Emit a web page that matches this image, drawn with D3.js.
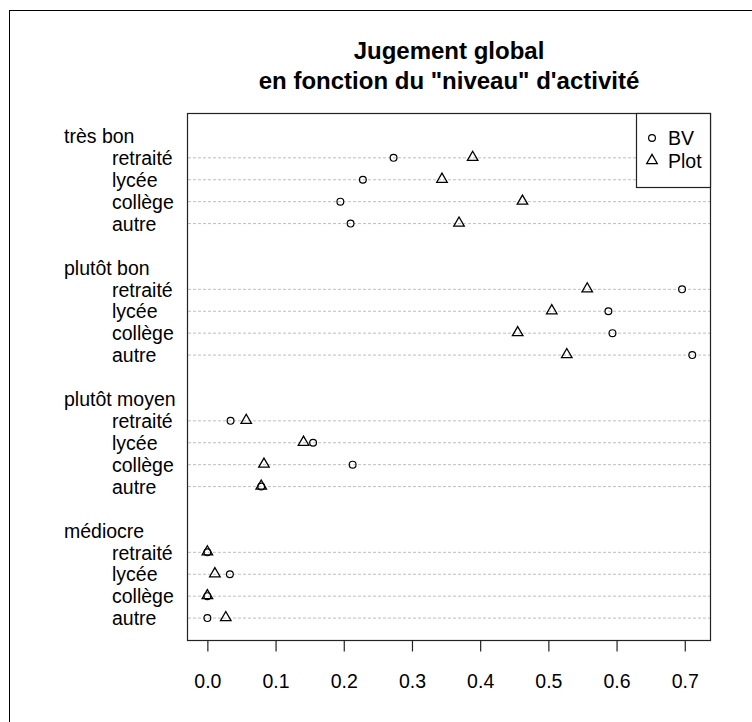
<!DOCTYPE html>
<html>
<head>
<meta charset="utf-8">
<script src="https://cdn.jsdelivr.net/npm/d3@7"></script>
<style>
  html, body { margin: 0; padding: 0; background: #fff; }
  svg { display: block; }
  text { font-family: "Liberation Sans", Arial, sans-serif; fill: #000; }
</style>
</head>
<body>
<svg id="chart" width="752" height="722"></svg>
<script>
// ---- data ----
const groups = ["très bon", "plutôt bon", "plutôt moyen", "médiocre"];
const levels = ["retraité", "lycée", "collège", "autre"];
// values per group, in the order of levels
const bvValues = [
  [0.273, 0.228, 0.195, 0.210],   // très bon
  [0.696, 0.588, 0.594, 0.711],   // plutôt bon
  [0.034, 0.155, 0.213, 0.079],   // plutôt moyen
  [0.000, 0.033, 0.000, 0.000]    // médiocre
];
const plotValues = [
  [0.389, 0.344, 0.462, 0.369],
  [0.557, 0.505, 0.455, 0.527],
  [0.057, 0.141, 0.083, 0.079],
  [0.000, 0.011, 0.000, 0.027]
];
const seriesNames = ["BV", "Plot"];
const xTicks = [0, 0.1, 0.2, 0.3, 0.4, 0.5, 0.6, 0.7];
const titleLines = ["Jugement global", "en fonction du \"niveau\" d'activité"];

// ---- layout ----
const svg = d3.select("#chart");
const box = { left: 188, right: 710, top: 114, bottom: 640 };

// positions like R dotchart: bottom group first, 2 units gap per group
const nG = groups.length, nL = levels.length;
function rowPos(g, l) {
  const gb = nG - 1 - g;
  return gb * (nL + 2) + (nL - l);
}
function groupLabelPos(g) {
  const gb = nG - 1 - g;
  return gb * (nL + 2) + nL + 1;
}

const x = d3.scaleLinear().domain([-0.0284, 0.737]).range([box.left, box.right]);
const y = d3.scaleLinear().domain([0, 24]).range([box.bottom, box.top]);

// outer frame
svg.append("rect")
  .attr("x", 9.5).attr("y", 10.5).attr("width", 800).attr("height", 800)
  .attr("fill", "none").attr("stroke", "#000").attr("stroke-width", 1);

// title
svg.selectAll("text.title").data(titleLines).join("text")
  .attr("class", "title")
  .attr("x", (box.left + box.right) / 2)
  .attr("y", (d, i) => 59 + i * 30)
  .attr("text-anchor", "middle")
  .attr("font-size", "24px")
  .attr("font-weight", "bold")
  .text(d => d);

// rows
const rows = [];
groups.forEach((g, gi) => {
  levels.forEach((l, li) => {
    rows.push({ group: g, level: l, pos: rowPos(gi, li), bv: bvValues[gi][li], plot: plotValues[gi][li] });
  });
});

// dotted guide lines
svg.selectAll("line.guide").data(rows).join("line")
  .attr("class", "guide")
  .attr("x1", box.left).attr("x2", box.right)
  .attr("y1", d => y(d.pos)).attr("y2", d => y(d.pos))
  .attr("stroke", "#bebebe").attr("stroke-width", 1)
  .attr("stroke-dasharray", "3,2");

// row labels
svg.selectAll("text.rowlab").data(rows).join("text")
  .attr("class", "rowlab")
  .attr("x", 112)
  .attr("y", d => y(d.pos))
  .attr("dy", "0.37em")
  .attr("font-size", "19.5px")
  .text(d => d.level);

// group labels
svg.selectAll("text.grouplab").data(groups).join("text")
  .attr("class", "grouplab")
  .attr("x", 64)
  .attr("y", (d, i) => y(groupLabelPos(i)))
  .attr("dy", "0.37em")
  .attr("font-size", "19.5px")
  .text(d => d);

// points
const triPath = d3.symbol(d3.symbolTriangle, 48)();
svg.selectAll("circle.bv").data(rows).join("circle")
  .attr("class", "bv")
  .attr("cx", d => x(d.bv)).attr("cy", d => y(d.pos))
  .attr("r", 3.4)
  .attr("fill", "none").attr("stroke", "#000").attr("stroke-width", 1.2);

svg.selectAll("path.plot").data(rows).join("path")
  .attr("class", "plot")
  .attr("d", triPath)
  .attr("transform", d => `translate(${x(d.plot)},${y(d.pos) - 0.5})`)
  .attr("fill", "none").attr("stroke", "#000").attr("stroke-width", 1.3);

// plot box
svg.append("rect")
  .attr("x", box.left - 0.5).attr("y", box.top - 0.5)
  .attr("width", box.right - box.left + 1).attr("height", box.bottom - box.top + 1)
  .attr("fill", "none").attr("stroke", "#222").attr("stroke-width", 1.2);

// x axis
const axis = d3.axisBottom(x).tickValues(xTicks).tickFormat(d3.format(".1f"))
  .tickSize(11).tickPadding(23);
const gAxis = svg.append("g").attr("transform", `translate(0,${box.bottom + 0.5})`).call(axis);
gAxis.select(".domain").remove();
gAxis.selectAll(".tick line").attr("stroke", "#222").attr("stroke-width", 1.2);
gAxis.selectAll(".tick text")
  .attr("font-size", "19.5px")
  .attr("font-family", "Liberation Sans, Arial, sans-serif")
  .attr("fill", "#000");

// legend
const leg = { x0: 637, y0: 114, x1: 710, y1: 187 };
svg.append("rect")
  .attr("x", leg.x0 - 0.5).attr("y", leg.y0 - 0.5)
  .attr("width", leg.x1 - leg.x0 + 1).attr("height", leg.y1 - leg.y0 + 1)
  .attr("fill", "#fff").attr("stroke", "#222").attr("stroke-width", 1.2);
const legItems = svg.selectAll("g.legitem").data(seriesNames).join("g")
  .attr("class", "legitem")
  .attr("transform", (d, i) => `translate(652,${138 + i * 23})`);
legItems.each(function(d, i) {
  const g = d3.select(this);
  if (i === 0) {
    g.append("circle").attr("r", 3.4).attr("fill", "none").attr("stroke", "#000").attr("stroke-width", 1.2);
  } else {
    g.append("path").attr("d", triPath).attr("transform", "translate(0,-0.5)")
      .attr("fill", "none").attr("stroke", "#000").attr("stroke-width", 1.3);
  }
  g.append("text").attr("x", 16).attr("dy", "0.37em").attr("font-size", "19.5px").text(d);
});
</script>
</body>
</html>
